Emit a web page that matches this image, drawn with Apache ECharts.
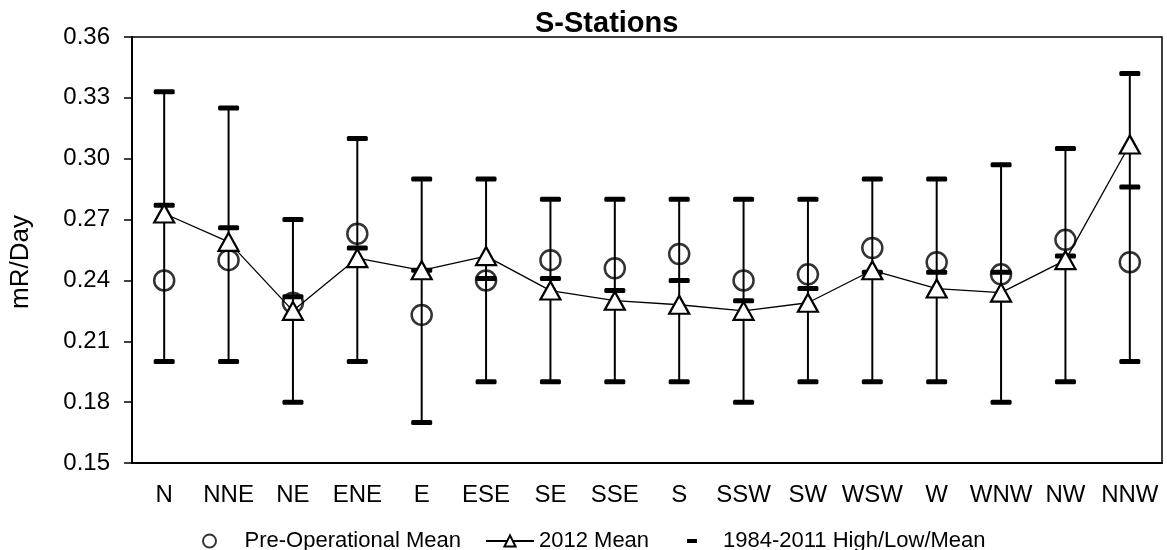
<!DOCTYPE html>
<html>
<head>
<meta charset="utf-8">
<script src="https://cdn.jsdelivr.net/npm/echarts@6/dist/echarts.min.js"></script>
<style>
  html, body { margin: 0; padding: 0; background: #fff; }
  #chart { width: 1167px; height: 550px; }
</style>
</head>
<body>
<div id="chart"></div>
<script>
// direction sectors
var categories = ['N', 'NNE', 'NE', 'ENE', 'E', 'ESE', 'SE', 'SSE', 'S', 'SSW', 'SW', 'WSW', 'W', 'WNW', 'NW', 'NNW'];
// mR/Day values
var preOpMean = [0.240, 0.250, 0.229, 0.263, 0.223, 0.240, 0.250, 0.246, 0.253, 0.240, 0.243, 0.256, 0.249, 0.243, 0.260, 0.249];
var mean2012 = [0.273, 0.259, 0.225, 0.251, 0.245, 0.252, 0.235, 0.230, 0.228, 0.225, 0.229, 0.245, 0.236, 0.234, 0.250, 0.307];
var histHigh = [0.333, 0.325, 0.270, 0.310, 0.290, 0.290, 0.280, 0.280, 0.280, 0.280, 0.280, 0.290, 0.290, 0.297, 0.305, 0.342];
var histLow = [0.200, 0.200, 0.180, 0.200, 0.170, 0.190, 0.190, 0.190, 0.190, 0.180, 0.190, 0.190, 0.190, 0.180, 0.190, 0.200];
var histMean = [0.277, 0.266, 0.232, 0.256, 0.245, 0.241, 0.241, 0.235, 0.240, 0.230, 0.236, 0.244, 0.244, 0.244, 0.252, 0.286];

var FONT = '"Liberation Sans", Arial, sans-serif';

// rows for the error bar series: [index, high, low, mean]
var barRows = [];
for (var i = 0; i < categories.length; i++) {
  barRows.push([i, histHigh[i], histLow[i], histMean[i]]);
}

function renderErrorBar(params, api) {
  var x = api.value(0);
  var hi = api.coord([x, api.value(1)]);
  var lo = api.coord([x, api.value(2)]);
  var me = api.coord([x, api.value(3)]);
  var w = 21, h = 5;
  function cap(p) {
    return {
      type: 'rect',
      shape: { x: p[0] - w / 2, y: p[1] - h / 2, width: w, height: h, r: 1.5 },
      style: { fill: '#000' }
    };
  }
  return {
    type: 'group',
    children: [
      {
        type: 'line',
        shape: { x1: hi[0], y1: hi[1], x2: lo[0], y2: lo[1] },
        style: { stroke: '#000', lineWidth: 2 }
      },
      cap(hi), cap(lo), cap(me)
    ]
  };
}

var myChart = echarts.init(document.getElementById('chart'));

var option = {
  backgroundColor: '#fff',
  animation: false,
  title: {
    text: 'S-Stations',
    left: 535,
    top: 9,
    padding: 0,
    textStyle: { fontFamily: FONT, fontSize: 29, fontWeight: 'bold', color: '#000' }
  },
  legend: [
    {
      data: ['Pre-Operational Mean'],
      left: 202,
      top: 530,
      padding: 0,
      itemWidth: 60,
      itemHeight: 13,
      textStyle: { fontFamily: FONT, fontSize: 22, color: '#000' }
    },
    {
      data: ['2012 Mean'],
      left: 485,
      top: 530,
      padding: 0,
      itemWidth: 48,
      itemHeight: 14,
      textStyle: { fontFamily: FONT, fontSize: 22, color: '#000' }
    },
    {
      data: [{ name: '1984-2011 High/Low/Mean', icon: 'rect' }],
      left: 687,
      top: 530,
      padding: 0,
      itemWidth: 10,
      itemHeight: 4,
      textStyle: { fontFamily: FONT, fontSize: 22, color: '#000', padding: [0, 0, 0, 21] }
    }
  ],
  grid: {
    left: 131,
    right: 5,
    top: 37,
    bottom: 87,
    show: true,
    borderColor: '#000',
    borderWidth: 1.5,
    backgroundColor: 'transparent'
  },
  xAxis: {
    type: 'category',
    data: categories,
    boundaryGap: true,
    axisLine: { lineStyle: { color: '#000', width: 2 } },
    axisTick: { show: false },
    axisLabel: { fontFamily: FONT, fontSize: 24, color: '#000', margin: 20, interval: 0 },
    splitLine: { show: false }
  },
  yAxis: {
    type: 'value',
    min: 0.15,
    max: 0.36,
    interval: 0.03,
    name: 'mR/Day',
    nameLocation: 'middle',
    nameGap: 98,
    nameTextStyle: { fontFamily: FONT, fontSize: 26, color: '#000', padding: [0, 24, 0, 0] },
    axisLine: { show: true, lineStyle: { color: '#000', width: 2 } },
    axisTick: { show: true, length: 8, lineStyle: { color: '#000', width: 1.5 } },
    axisLabel: {
      fontFamily: FONT, fontSize: 24, color: '#000', margin: 22,
      formatter: function (v) { return v.toFixed(2) }
    },
    splitLine: { show: false }
  },
  series: [
    {
      name: 'Pre-Operational Mean',
      type: 'scatter',
      data: preOpMean,
      symbol: 'circle',
      symbolSize: 20,
      z: 2,
      itemStyle: { color: '#fff', borderColor: '#000', borderWidth: 2.5 }
    },
    {
      name: '1984-2011 High/Low/Mean',
      type: 'custom',
      data: barRows,
      renderItem: renderErrorBar,
      encode: { x: 0, y: [1, 2, 3] },
      z: 3,
      itemStyle: { color: '#000' }
    },
    {
      name: '2012 Mean',
      type: 'line',
      data: mean2012,
      symbol: 'triangle',
      symbolSize: [20, 18],
      showAllSymbol: true,
      z: 4,
      lineStyle: { color: '#000', width: 1.3 },
      itemStyle: { color: '#fff', borderColor: '#000', borderWidth: 2.2 }
    }
  ]
};

myChart.setOption(option);
</script>
</body>
</html>
